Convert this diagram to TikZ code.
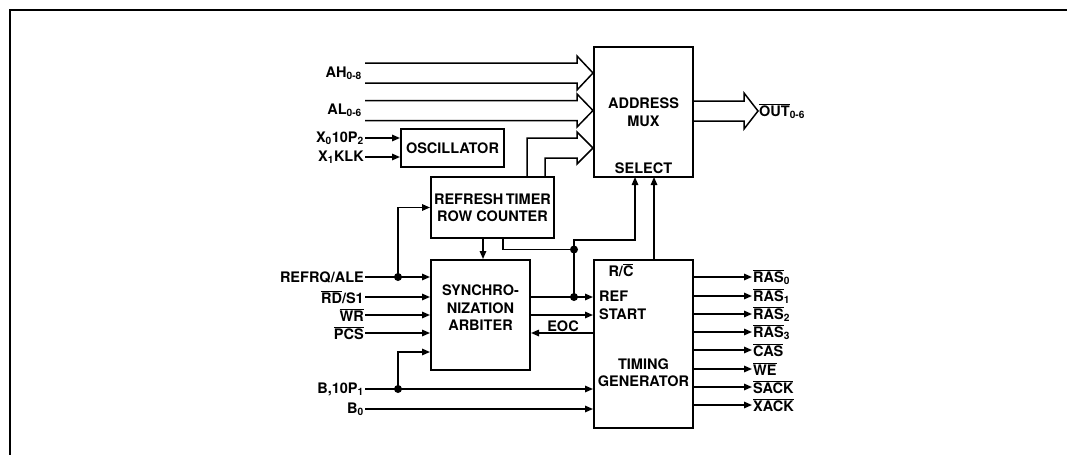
\documentclass[tikz,border=0pt]{standalone}
\usepackage{fontspec}
\setmainfont{TeX Gyre Heros}
\usetikzlibrary{arrows.meta,positioning,calc}
\newcommand{\ovr}[1]{\ensuremath{\overline{\mbox{#1}}}}

\begin{document}
\begin{tikzpicture}[
  x=1pt, y=-1pt,
  font=\fontsize{14.5}{17.5}\selectfont\bfseries,
  blk/.style={draw, line width=2pt, inner sep=0pt, align=center},
  wire/.style={line width=1.5pt},
  bus/.style={line width=1.5pt, line join=miter},
  a/.style={wire, -{Triangle[length=8pt,width=6.5pt]}},
  lbl/.style={inner sep=1pt},
  dot/.style={circle, fill, inner sep=0pt, minimum size=8pt}]

\useasboundingbox (0,0) rectangle (1067,455);
% =================== frame ===================
\draw[line width=1.5pt] (1067,10) -- (10,10) -- (10,455);

% =================== blocks ===================
\node[blk, minimum width=99pt, minimum height=130pt] (mux) at (643.5,112) {ADDRESS\\MUX};
\node[lbl, above=3pt of mux.south] (select) {SELECT};
\node[blk, minimum width=103pt, minimum height=38pt] (osc) at (452.5,148) {OSCILLATOR};
\node[blk, minimum width=123pt, minimum height=61pt] (rtimer) at (492.5,207.5)
      {REFRESH\,TIMER\\ROW COUNTER};
\node[blk, minimum width=99pt, minimum height=110pt] (arb) at (480.5,315) {};
\node[lbl, align=center] (arbtxt) at (480.5,308) {SYNCHRO-\\NIZATION\\ARBITER};
\node[blk, minimum width=99pt, minimum height=168pt] (tg) at (643.5,344) {};
\node[lbl] (rc) at (621,270) {R/\ovr{C}};
\node[lbl, align=left, anchor=west] (refst) at (598,305.5) {REF\\START};
\node[lbl, align=center] (tgtxt) at (643.5,372.5) {TIMING\\GENERATOR};

% =================== address buses ===================
\node[lbl, anchor=east] (ah) at (363,73) {AH\textsubscript{0-8}};
\draw[bus] (365,63) -- (577,63) -- (577,56) -- (mux.west |- 0,73)
      -- (577,90) -- (577,83) -- (365,83);
\node[lbl, anchor=east] (al) at (363,110.5) {AL\textsubscript{0-6}};
\draw[bus] (365,100.5) -- (577,100.5) -- (577,94) -- (mux.west |- 0,110.5)
      -- (577,127) -- (577,120.5) -- (365,120.5);
\draw[bus] ([xshift=34.5pt]rtimer.north) |- (577,138) -- (577,132) -- (mux.west |- 0,148)
      -- (577,164) -- (577,158) -| ([xshift=52.5pt]rtimer.north);
\draw[bus] ([yshift=11pt]mux.east) -- ++(50,0) -- ++(0,-8) -- ++(14,18)
      -- ++(-14,18) -- ++(0,-8) -- ([yshift=-9pt]mux.east);
\node[lbl, anchor=west] (out) at (758,111) {\ovr{OUT}\textsubscript{0-6}};

% =================== oscillator inputs ===================
\coordinate (x0) at (365,138);
\coordinate (x1) at (365,157);
\node[lbl, anchor=east] (lx0) at (x0) {X\textsubscript{0}10P\textsubscript{2}};
\node[lbl, anchor=east] (lx1) at (x1) {X\textsubscript{1}KLK};
\draw[a] (x0) -- (x0 -| osc.west);
\draw[a] (x1) -- (x1 -| osc.west);

% =================== arbiter inputs ===================
\coordinate (refrq) at (365,277);
\node[lbl, anchor=east] (lrefrq) at (refrq) {REFRQ/ALE};
\draw[a] (refrq) -- (refrq -| arb.west);
\foreach \y/\txt/\nm in {297/{\ovr{RD}/S1}/rd, 315/{\ovr{WR}}/wr, 333/{\ovr{PCS}}/pcs} {
  \coordinate (\nm) at (365,\y);
  \node[lbl, anchor=east] (l\nm) at (\nm) {\txt};
  \draw[a] (\nm) -- (\nm -| arb.west);
}
\coordinate (b1) at (365,389);
\coordinate (b0) at (365,409);
\node[lbl, anchor=east] (lb1) at (b1) {B,10P\textsubscript{1}};
\node[lbl, anchor=east] (lb0) at (b0) {B\textsubscript{0}};
\draw[a] (b1) -- (b1 -| tg.west);
\draw[a] (b0) -- (b0 -| tg.west);

\node[dot] (d1) at (398,277) {};
\node[dot] (d2) at (398,389) {};
\draw[a] (d1.center) |- (rtimer.west);
\draw[a] (d2.center) |- ([yshift=-37pt]arb.west);

% =================== refresh / select paths ===================
\draw[a] (rtimer.south -| 483,0) -- (arb.north -| 483,0);
\node[dot] (d3) at (574,249.5) {};
\node[dot] (d4) at (574,297) {};
\coordinate (selL) at (635,177);
\coordinate (selR) at (654,177);
\draw[a] ([xshift=10.5pt]rtimer.south) |- (d3.center) -- ++(0,-9.5) -| (selL);
\draw[wire] (d3.center) -- (d4.center);
\draw[a] (selR |- tg.north) -- (selR);

% =================== arbiter <-> timing generator ===================
\draw[a] (arb.east |- d4) -- (tg.west |- d4);
\draw[a] (arb.east) -- (tg.west |- arb.east);
\draw[a] (tg.west |- 0,333) -- (arb.east |- 0,333);
\node[lbl, above] (eoc) at (563,333) {EOC};

% =================== timing outputs ===================
\foreach \y/\txt/\nm in {277/{\ovr{RAS}\textsubscript{0}}/ras0,
    296/{\ovr{RAS}\textsubscript{1}}/ras1, 314/{\ovr{RAS}\textsubscript{2}}/ras2,
    332/{\ovr{RAS}\textsubscript{3}}/ras3, 350/{\ovr{CAS}}/cas, 369/{\ovr{WE}}/we,
    387/{\ovr{SACK}}/sack, 405/{\ovr{XACK}}/xack} {
  \coordinate (o\nm) at (752,\y);
  \draw[a] (tg.east |- o\nm) -- (o\nm);
  \node[lbl, anchor=west] (l\nm) at (o\nm) {\txt};
}
\end{tikzpicture}
\end{document}
